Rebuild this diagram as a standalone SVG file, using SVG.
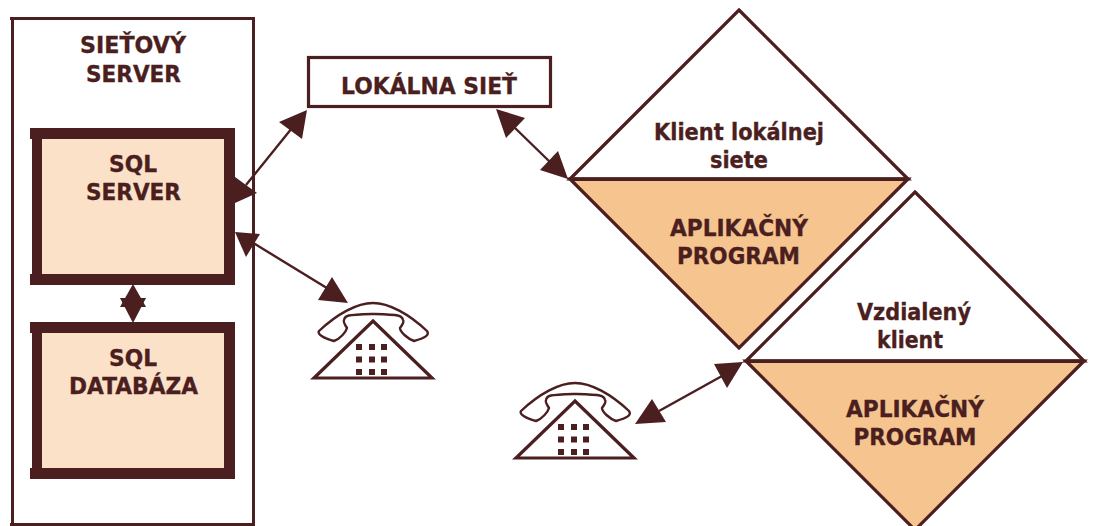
<svg xmlns="http://www.w3.org/2000/svg" width="1093" height="526" viewBox="0 0 1093 526">
<style>
.t{font-family:"DejaVu Sans","Liberation Sans",sans-serif;font-weight:700;font-size:23px;fill:#4b1e20;stroke:#4b1e20;stroke-width:.35;text-anchor:middle}
.w{fill:#fff;stroke:#4b1e20;stroke-width:3.2;stroke-linejoin:miter}
.tan{fill:#f5c48f;stroke:#4b1e20;stroke-width:3.2}
.face{fill:#fae1c8}
.h,.k{fill:#4b1e20}
.c{stroke:#4b1e20;stroke-width:2.4;fill:none}
</style>
<defs>
<g id="phone">
<path fill="#fff" stroke="#4b1e20" stroke-width="2.4" stroke-linejoin="round" d="M-54 13C-36 -4 -16 -15 0 -15C16 -15 36 -4 54 13C57 17 52 20 41 23C35 21 27 14 27 10C30 6 31 3 30 2C29 -3 26 -3 0 -4C-26 -3 -28 -3 -29 2C-30 4 -28 7 -26 10C-27 14 -33 21 -39 23C-50 20 -56 16 -54 13Z"/>
<path class="w" d="M0 3L59 60H-59Z"/>
<g class="k"><rect x="-17" y="26" width="6" height="6"/><rect x="-4" y="26" width="6" height="6"/><rect x="8" y="26" width="6" height="6"/><rect x="-17" y="38.500" width="6" height="6"/><rect x="-4" y="38.500" width="6" height="6"/><rect x="8" y="38.500" width="6" height="6"/><rect x="-17" y="51" width="6" height="6"/><rect x="-4" y="51" width="6" height="6"/><rect x="8" y="51" width="6" height="6"/></g>
</g>
</defs>
<g id="sietovy-server">
<rect x="12.500" y="18.500" width="241" height="506" fill="#fff" stroke="#4b1e20" stroke-width="3"/>
<path class="k" d="M10 17H255V20H10ZM10 523H255V526H10Z"/>
<text class="t" x="133" y="53" textLength="106" lengthAdjust="spacingAndGlyphs">SIEŤOVÝ</text>
<text class="t" x="133.500" y="82" textLength="95" lengthAdjust="spacingAndGlyphs">SERVER</text>
</g>
<g id="sql-server">
<path class="k" d="M30 128H235V285H30V274H32V139H30Z"/>
<rect class="face" x="42" y="139" width="182" height="135"/>
<text class="t" x="133" y="172" textLength="48" lengthAdjust="spacingAndGlyphs">SQL</text>
<text class="t" x="133.500" y="200" textLength="95" lengthAdjust="spacingAndGlyphs">SERVER</text>
</g>
<g id="sql-databaza">
<path class="k" d="M30 322H235V479H30V468H32V333H30Z"/>
<rect class="face" x="42" y="333" width="182" height="135"/>
<text class="t" x="133" y="366" textLength="48" lengthAdjust="spacingAndGlyphs">SQL</text>
<text class="t" x="133.500" y="394" textLength="129" lengthAdjust="spacingAndGlyphs">DATABÁZA</text>
</g>
<g id="lokalna-siet">
<rect x="308.500" y="57.500" width="242" height="49" fill="#fff" stroke="#4b1e20" stroke-width="3.200"/>
<text class="t" x="429" y="94" textLength="176" lengthAdjust="spacingAndGlyphs">LOKÁLNA SIEŤ</text>
</g>
<g id="klient">
<path class="w" d="M739 10L908 179H570Z"/>
<path class="tan" d="M570 179H908L739 348Z"/>
<path class="k" d="M570 177.500H908V181H570Z"/>
<text class="t" x="739" y="140" textLength="170" lengthAdjust="spacingAndGlyphs">Klient lokálnej</text>
<text class="t" x="739" y="168" textLength="58" lengthAdjust="spacingAndGlyphs">siete</text>
<text class="t" x="739" y="236" textLength="138" lengthAdjust="spacingAndGlyphs">APLIKAČNÝ</text>
<text class="t" x="738.500" y="264" textLength="123" lengthAdjust="spacingAndGlyphs">PROGRAM</text>
</g>
<g id="vzdialeny-klient">
<path class="w" d="M915 192L1084 361H746Z"/>
<path class="tan" d="M746 361H1084L915 530Z"/>
<path class="k" d="M746 359.500H1084V363H746Z"/>
<text class="t" x="914" y="320" textLength="114" lengthAdjust="spacingAndGlyphs">Vzdialený</text>
<text class="t" x="910" y="348" textLength="66" lengthAdjust="spacingAndGlyphs">klient</text>
<text class="t" x="915" y="417" textLength="138" lengthAdjust="spacingAndGlyphs">APLIKAČNÝ</text>
<text class="t" x="915" y="445" textLength="123" lengthAdjust="spacingAndGlyphs">PROGRAM</text>
</g>
<g id="telefon-1"><use href="#phone" x="373" y="318"/></g>
<g id="telefon-2"><use href="#phone" x="575" y="398"/></g>
<g id="connectors">
<path class="c" d="M246 185L292 128"/>
<path class="h" d="M307 110L279 122L302 139Z"/>
<path class="h" d="M257 193L235 177V203Z"/>
<path class="c" d="M250 241L335 293"/>
<path class="h" d="M235 232L246 257L260 234Z"/>
<path class="h" d="M348 303L332 277L318 300Z"/>
<path class="h" d="M133 284L120 307H146Z"/>
<path class="h" d="M133 323L120 298H146Z"/>
<path class="c" d="M515 128L550 162"/>
<path class="h" d="M496 109L506 138L525 118Z"/>
<path class="h" d="M568 179L558 151L540 170Z"/>
<path class="c" d="M659 411L722 376"/>
<path class="h" d="M635 424L666 422L652 399Z"/>
<path class="h" d="M743 362L714 364L727 388Z"/>
</g>
</svg>
